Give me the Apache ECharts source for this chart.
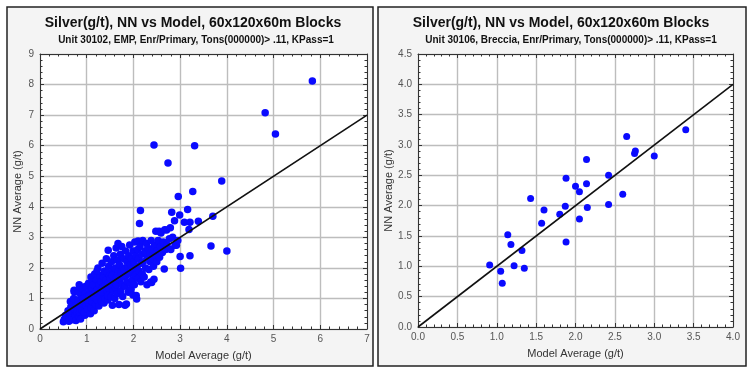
<!DOCTYPE html>
<html><head><meta charset="utf-8">
<script src="https://cdn.jsdelivr.net/npm/echarts@6/dist/echarts.min.js"></script>
<style>html,body{margin:0;padding:0;background:#fff}#c{width:755px;height:370px}</style>
</head><body><div id="c"></div>
<script>
const titleText = 'Silver(g/t), NN vs Model, 60x120x60m Blocks';
const leftSub = 'Unit 30102, EMP, Enr/Primary, Tons(000000)> .11, KPass=1';
const rightSub = 'Unit 30106, Breccia, Enr/Primary, Tons(000000)> .11, KPass=1';
const xName = 'Model Average (g/t)';
const yName = 'NN Average (g/t)';

const leftPoints = [
[0.50,0.24],[0.52,0.32],[0.55,0.45],[0.58,0.28],[0.60,0.60],[0.57,0.38],
[0.62,0.25],[0.64,0.50],[0.66,0.72],[0.68,0.35],[0.65,0.90],[0.69,0.58],
[0.71,0.30],[0.73,1.27],[0.74,0.65],[0.76,0.45],[0.78,0.85],[0.72,1.00],[0.79,0.55],[0.77,0.28],[0.73,1.22],
[0.81,0.95],[0.83,0.40],[0.84,1.45],[0.86,0.70],[0.88,1.10],[0.85,0.55],[0.89,0.85],[0.82,1.20],[0.87,0.33],[0.85,1.38],
[0.91,0.60],[0.92,1.30],[0.94,0.90],[0.96,0.45],[0.97,1.15],[0.99,0.75],[0.93,1.00],[0.98,1.40],[0.95,0.55],
[1.01,1.05],[1.02,0.65],[1.04,1.50],[1.05,0.85],[1.07,1.25],[1.08,0.50],[1.09,1.70],[1.03,0.95],[1.06,1.10],[1.10,0.70],
[1.11,1.35],[1.12,0.90],[1.13,1.55],[1.15,1.05],[1.16,0.60],[1.17,1.80],[1.18,1.20],[1.19,0.80],[1.14,1.45],[1.20,1.00],
[1.21,1.60],[1.22,0.95],[1.23,1.30],[1.24,2.00],[1.25,1.15],[1.26,0.75],[1.27,1.45],[1.28,1.75],[1.29,1.05],[1.30,1.25],[1.22,1.90],
[1.31,1.55],[1.32,0.90],[1.33,2.15],[1.34,1.35],[1.35,1.15],[1.36,1.70],[1.37,0.85],[1.38,1.90],[1.39,1.40],[1.40,1.00],[1.33,1.20],
[1.41,1.60],[1.42,2.30],[1.43,1.25],[1.44,1.85],[1.45,0.95],[1.46,1.50],[1.47,2.05],[1.48,1.30],[1.49,1.75],[1.46,2.58],[1.45,1.10],
[1.51,1.65],[1.52,1.05],[1.53,2.20],[1.54,1.40],[1.55,0.78],[1.56,1.90],[1.57,1.25],[1.58,2.40],[1.59,1.55],[1.60,1.00],[1.55,1.75],
[1.61,2.00],[1.62,1.35],[1.63,2.65],[1.64,1.70],[1.65,1.15],[1.66,2.25],[1.67,1.50],[1.68,1.90],[1.69,0.80],[1.70,2.10],[1.64,1.45],[1.67,2.80],
[1.71,1.60],[1.72,2.45],[1.73,1.25],[1.74,1.85],[1.75,2.70],[1.76,1.45],[1.77,2.00],[1.77,1.06],[1.79,2.30],[1.80,1.70],
[1.81,1.95],[1.82,1.40],[1.83,2.55],[1.84,1.75],[1.85,0.82],[1.86,2.20],[1.87,1.55],[1.88,2.05],[1.89,1.20],[1.90,2.40],[1.82,0.78],
[1.91,1.80],[1.92,2.75],[1.93,1.50],[1.94,2.10],[1.95,1.30],[1.96,2.30],[1.97,1.95],[1.98,1.60],[1.99,2.55],[2.00,1.85],[1.99,1.11],
[2.01,2.20],[2.02,1.45],[2.03,2.85],[2.04,1.75],[2.05,2.40],[2.06,1.10],[2.07,0.98],[2.08,2.05],[2.09,2.60],[2.10,1.65],[2.10,2.88],
[2.11,2.30],[2.12,1.90],[2.13,3.45],[2.15,3.88],[2.14,2.70],[2.16,1.55],[2.17,2.15],[2.18,2.45],[2.19,1.80],[2.20,2.90],
[2.21,2.20],[2.23,1.70],[2.25,2.55],[2.26,2.00],[2.28,2.80],[2.29,1.45],[2.30,2.35],
[2.31,2.65],[2.33,1.95],[2.35,2.45],[2.36,2.20],[2.38,2.90],[2.39,1.52],[2.40,2.60],[2.37,1.54],
[2.41,2.30],[2.43,2.05],[2.44,1.63],[2.45,2.75],[2.47,2.40],[2.48,3.20],[2.50,2.20],[2.44,6.02],
[2.51,2.55],[2.53,2.90],[2.55,3.20],[2.56,2.35],[2.58,2.70],[2.59,3.14],
[2.62,2.50],[2.64,2.85],[2.66,1.96],[2.67,3.25],[2.69,2.60],[2.71,3.24],
[2.72,2.75],[2.74,5.43],[2.77,2.95],[2.79,3.31],[2.80,2.60],
[2.82,3.82],[2.84,3.00],[2.88,3.54],[2.89,2.74],
[2.92,2.74],[2.96,4.34],[2.99,3.73],[3.00,2.37],[3.01,1.99],[2.95,2.90],
[3.09,3.49],[3.16,3.91],[3.21,3.49],[3.21,2.40],[3.19,3.26],[3.27,4.50],[3.31,6.00],[3.39,3.53],
[3.66,2.72],[3.70,3.69],[3.89,4.84],[4.00,2.55],[4.82,7.08],[5.04,6.38],[5.83,8.12]
];

const rightPoints = [
[0.91,1.02],[1.05,0.92],[1.07,0.72],[1.14,1.52],[1.18,1.36],[1.22,1.01],[1.32,1.26],[1.35,0.97],
[1.43,2.12],[1.57,1.71],[1.60,1.93],[1.80,1.86],[1.87,1.99],[1.88,1.40],[1.88,2.45],[2.00,2.32],
[2.05,2.23],[2.05,1.78],[2.14,2.36],[2.14,2.76],[2.15,1.97],[2.42,2.02],[2.42,2.50],[2.60,2.19],
[2.65,3.14],[2.75,2.86],[2.76,2.90],[3.00,2.82],[3.40,3.25]
];

const leftLine = [[0,0],[7,7]];
const rightLine = [[0,0],[4,4]];
const leftXRange = [0, 7, 1];
const leftYRange = [0, 9, 1];
const rightXRange = [0, 4, 0.5];
const rightYRange = [0, 4.5, 0.5];

const FONT = 'Arial, "Liberation Sans", sans-serif';
const chart = echarts.init(document.getElementById('c'), null, {renderer: 'canvas'});

function mkAxis(gi, range, pos, labels, dec, name, nameGap) {
  const main = pos === 'bottom' || pos === 'left';
  return {
    type: 'value', gridIndex: gi, position: pos,
    min: range[0], max: range[1], interval: range[2],
    name: main ? name : '', nameLocation: 'middle', nameGap: nameGap,
    nameTextStyle: {fontFamily: FONT, fontSize: 11, color: '#333'},
    axisLine: {show: true, onZero: false, lineStyle: {color: '#333', width: 1}},
    axisTick: {show: true, inside: true, length: 4, lineStyle: {color: '#333'}},
    minorTick: {show: true, splitNumber: 5, length: 2.5, lineStyle: {color: '#333'}},
    splitLine: {show: main, lineStyle: {color: '#bdbdbd', width: 1.4}},
    axisLabel: {show: main, fontFamily: FONT, fontSize: 10, color: '#555', margin: main && (pos==='left') ? 6 : 5,
      formatter: v => v.toFixed(dec)},
    z: 1
  };
}

const option = {
  backgroundColor: '#fff',
  animation: false,
  graphic: [
    {type: 'rect', shape: {x: 7, y: 7, width: 366, height: 359}, style: {fill: '#f4f4f4', stroke: '#222', lineWidth: 1.5}, z: -20, silent: true},
    {type: 'rect', shape: {x: 378, y: 7, width: 368, height: 359}, style: {fill: '#f4f4f4', stroke: '#222', lineWidth: 1.5}, z: -20, silent: true}
  ],
  title: [
    {text: titleText, left: 193, top: 16, textAlign: 'center', padding: 0,
     textStyle: {fontFamily: FONT, fontSize: 14, fontWeight: 'bold', color: '#111'}},
    {text: leftSub, left: 196, top: 35, textAlign: 'center', padding: 0,
     textStyle: {fontFamily: FONT, fontSize: 10, fontWeight: 'bold', color: '#111'}},
    {text: titleText, left: 561, top: 16, textAlign: 'center', padding: 0,
     textStyle: {fontFamily: FONT, fontSize: 14, fontWeight: 'bold', color: '#111'}},
    {text: rightSub, left: 571, top: 35, textAlign: 'center', padding: 0,
     textStyle: {fontFamily: FONT, fontSize: 10, fontWeight: 'bold', color: '#111'}}
  ],
  grid: [
    {left: 40, top: 54, width: 327, height: 275, show: true, backgroundColor: '#fff', borderWidth: 0},
    {left: 418, top: 54, width: 315, height: 273, show: true, backgroundColor: '#fff', borderWidth: 0}
  ],
  xAxis: [
    mkAxis(0, leftXRange, 'bottom', true, 0, xName, 21),
    mkAxis(0, leftXRange, 'top', false, 0, '', 0),
    mkAxis(1, rightXRange, 'bottom', true, 1, xName, 21),
    mkAxis(1, rightXRange, 'top', false, 1, '', 0)
  ],
  yAxis: [
    mkAxis(0, leftYRange, 'left', true, 0, yName, 17),
    mkAxis(0, leftYRange, 'right', false, 0, '', 0),
    mkAxis(1, rightYRange, 'left', true, 1, yName, 21),
    mkAxis(1, rightYRange, 'right', false, 1, '', 0)
  ],
  series: [
    {type: 'scatter', xAxisIndex: 0, yAxisIndex: 0, data: leftPoints, symbol: 'circle', symbolSize: 7.5,
     itemStyle: {color: '#0a0aff', opacity: 1}, z: 3},
    {type: 'line', xAxisIndex: 0, yAxisIndex: 0, data: leftLine, symbol: 'none',
     lineStyle: {color: '#111', width: 1.6}, z: 4},
    {type: 'scatter', xAxisIndex: 2, yAxisIndex: 2, data: rightPoints, symbol: 'circle', symbolSize: 7,
     itemStyle: {color: '#0a0aff', opacity: 1}, z: 3},
    {type: 'line', xAxisIndex: 2, yAxisIndex: 2, data: rightLine, symbol: 'none',
     lineStyle: {color: '#111', width: 1.6}, z: 4}
  ]
};
chart.setOption(option);
</script>
</body></html>
